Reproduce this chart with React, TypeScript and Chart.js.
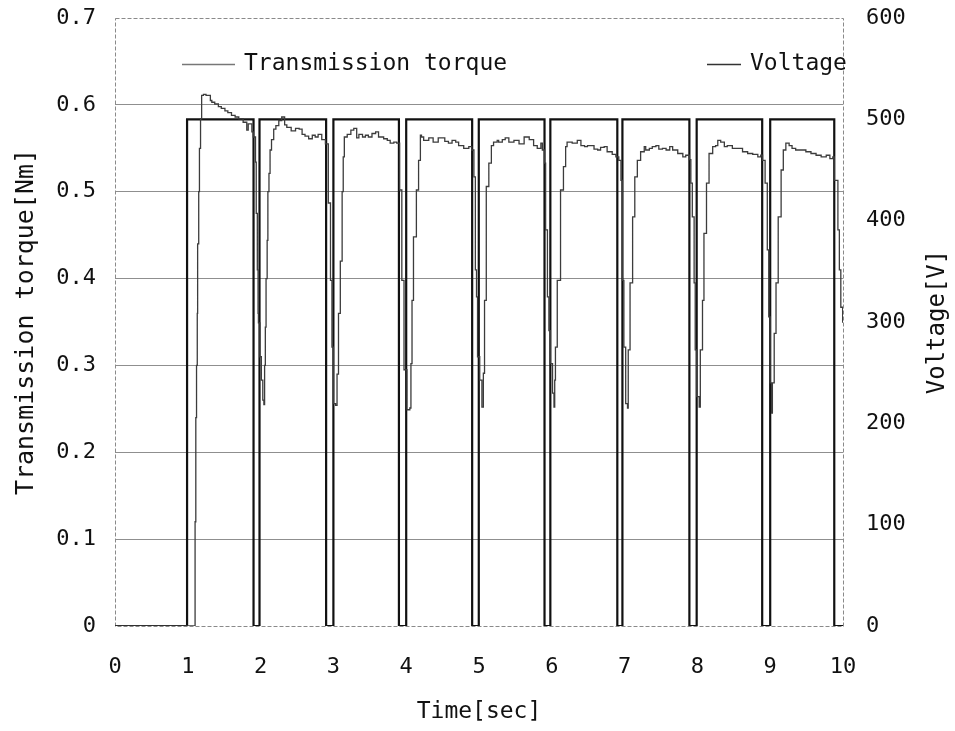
import { useEffect, useRef } from "react";
import { Chart, registerables } from "chart.js";

Chart.register(...registerables);

// Applied voltage pulses: switch-on / switch-off instants [sec] and level [V]
const pulseOn = [0.99, 1.985, 3.0, 4.0, 4.997, 5.98, 6.97, 7.99, 9.0];
const pulseOff = [1.903, 2.9, 3.9, 4.906, 5.9, 6.9, 7.89, 8.89, 9.88];
const pulseVoltage = 500;
const timeEnd = 10;

// Transmission torque readings, [time sec, torque Nm]
const torqueIdle: [number, number][] = [[0, 0], [1.1, 0]];
const torqueCycle1: [number, number][] = [
  [1.11, 0.12], [1.12, 0.24], [1.13, 0.3], [1.135, 0.36], [1.15, 0.44], [1.16, 0.5],
  [1.175, 0.55], [1.19, 0.584], [1.215, 0.611], [1.25, 0.612], [1.31, 0.611], [1.33, 0.605],
  [1.37, 0.603], [1.42, 0.601], [1.46, 0.598], [1.51, 0.596], [1.55, 0.593], [1.6, 0.591],
  [1.65, 0.588], [1.7, 0.586], [1.76, 0.584], [1.81, 0.58], [1.83, 0.571], [1.86, 0.578],
  [1.88, 0.578], [1.9, 0.569], [1.93, 0.563],
];
const torqueCycle2: [number, number][] = [
  [1.94, 0.534], [1.955, 0.475], [1.965, 0.41], [1.97, 0.36], [1.99, 0.349], [2.01, 0.31],
  [2.03, 0.283], [2.045, 0.26], [2.055, 0.255], [2.065, 0.3], [2.075, 0.344], [2.09, 0.4],
  [2.1, 0.444], [2.115, 0.5], [2.13, 0.521], [2.15, 0.548], [2.18, 0.56], [2.21, 0.572],
  [2.25, 0.576], [2.29, 0.582], [2.33, 0.586], [2.36, 0.577], [2.42, 0.574], [2.48, 0.57],
  [2.53, 0.573], [2.57, 0.572], [2.61, 0.566], [2.66, 0.564], [2.71, 0.561], [2.75, 0.565],
  [2.79, 0.563], [2.84, 0.566], [2.89, 0.56], [2.93, 0.555],
];
const torqueCycle3: [number, number][] = [
  [2.96, 0.487], [2.98, 0.398], [3.0, 0.321], [3.03, 0.256], [3.05, 0.254], [3.07, 0.29],
  [3.095, 0.36], [3.12, 0.42], [3.135, 0.5], [3.15, 0.54], [3.19, 0.563], [3.24, 0.566],
  [3.28, 0.571], [3.32, 0.573], [3.35, 0.562], [3.4, 0.566], [3.44, 0.563], [3.48, 0.565],
  [3.53, 0.563], [3.58, 0.567], [3.62, 0.569], [3.66, 0.563], [3.69, 0.563], [3.74, 0.561],
  [3.78, 0.559], [3.83, 0.556], [3.87, 0.557], [3.91, 0.556],
];
const torqueCycle4: [number, number][] = [
  [3.94, 0.502], [3.97, 0.398], [4.01, 0.295], [4.05, 0.249], [4.065, 0.251], [4.08, 0.302],
  [4.1, 0.375], [4.14, 0.448], [4.17, 0.502], [4.195, 0.536], [4.21, 0.565], [4.24, 0.563],
  [4.31, 0.559], [4.37, 0.562], [4.44, 0.557], [4.53, 0.562], [4.58, 0.558], [4.63, 0.556],
  [4.68, 0.559], [4.72, 0.557], [4.79, 0.553], [4.86, 0.55], [4.9, 0.552], [4.93, 0.548],
];
const torqueCycle5: [number, number][] = [
  [4.95, 0.517], [4.966, 0.41], [4.98, 0.379], [5.01, 0.31], [5.04, 0.283], [5.06, 0.252],
  [5.076, 0.291], [5.1, 0.375], [5.135, 0.506], [5.17, 0.533], [5.2, 0.553], [5.25, 0.557],
  [5.27, 0.559], [5.32, 0.557], [5.36, 0.56], [5.41, 0.562], [5.48, 0.557], [5.55, 0.559],
  [5.62, 0.555], [5.69, 0.563], [5.75, 0.56], [5.8, 0.553], [5.85, 0.55], [5.87, 0.556],
  [5.9, 0.548],
];
const torqueCycle6: [number, number][] = [
  [5.915, 0.533], [5.94, 0.456], [5.96, 0.379], [5.98, 0.34], [6.01, 0.302], [6.03, 0.268],
  [6.04, 0.252], [6.05, 0.283], [6.075, 0.321], [6.12, 0.398], [6.16, 0.502], [6.19, 0.529],
  [6.21, 0.552], [6.28, 0.557], [6.35, 0.556], [6.4, 0.559], [6.45, 0.553], [6.49, 0.552],
  [6.58, 0.553], [6.63, 0.549], [6.67, 0.548], [6.72, 0.551], [6.76, 0.552], [6.83, 0.546],
  [6.88, 0.543], [6.92, 0.54], [6.95, 0.536],
];
const torqueCycle7: [number, number][] = [
  [6.97, 0.513], [6.99, 0.398], [7.015, 0.321], [7.04, 0.256], [7.05, 0.251], [7.075, 0.318],
  [7.11, 0.395], [7.14, 0.471], [7.175, 0.517], [7.22, 0.536], [7.27, 0.546], [7.29, 0.552],
  [7.34, 0.548], [7.38, 0.55], [7.43, 0.552], [7.47, 0.553], [7.52, 0.549], [7.57, 0.55],
  [7.62, 0.548], [7.66, 0.552], [7.73, 0.548], [7.8, 0.544], [7.84, 0.54], [7.89, 0.542],
  [7.91, 0.537],
];
const torqueCycle8: [number, number][] = [
  [7.93, 0.51], [7.955, 0.471], [7.97, 0.395], [7.99, 0.318], [8.025, 0.264], [8.04, 0.252],
  [8.07, 0.318], [8.09, 0.375], [8.125, 0.452], [8.16, 0.51], [8.21, 0.544], [8.25, 0.552],
  [8.28, 0.553], [8.32, 0.559], [8.37, 0.557], [8.41, 0.552], [8.48, 0.553], [8.55, 0.55],
  [8.62, 0.55], [8.69, 0.546], [8.76, 0.544], [8.83, 0.543], [8.87, 0.54], [8.895, 0.542],
  [8.93, 0.536],
];
const torqueCycle9: [number, number][] = [
  [8.96, 0.51], [8.98, 0.433], [9.0, 0.356], [9.02, 0.28], [9.03, 0.245], [9.055, 0.28],
  [9.08, 0.337], [9.11, 0.395], [9.15, 0.471], [9.18, 0.525], [9.215, 0.548], [9.26, 0.556],
  [9.3, 0.553], [9.35, 0.55], [9.42, 0.548], [9.49, 0.548], [9.56, 0.546], [9.63, 0.544],
  [9.7, 0.542], [9.77, 0.54], [9.82, 0.542], [9.86, 0.538], [9.88, 0.54],
];
const torqueTail: [number, number][] = [
  [9.93, 0.513], [9.95, 0.456], [9.97, 0.41], [9.995, 0.367], [10.0, 0.35],
];

// Axis ranges and labels
const torqueMax = 0.7;
const torqueStep = 0.1;
const voltageMax = 600;
const voltageStep = 100;
const timeStep = 1;
const seriesLabels = ["Transmission torque", "Voltage"];
const xTitle = "Time[sec]";
const yTitle = "Transmission torque[Nm]";
const y1Title = "Voltage[V]";

const FONT = "'DejaVu Sans Mono', 'Liberation Mono', monospace";
const TEXT = "#111111";

function buildVoltage() {
  const pts: { x: number; y: number }[] = [{ x: 0, y: 0 }];
  pulseOn.forEach((on, i) => {
    const off = pulseOff[i];
    pts.push({ x: on, y: 0 }, { x: on, y: pulseVoltage }, { x: off, y: pulseVoltage }, { x: off, y: 0 });
  });
  pts.push({ x: timeEnd, y: 0 });
  return pts;
}

function buildTorque() {
  return [
    ...torqueIdle, ...torqueCycle1, ...torqueCycle2, ...torqueCycle3, ...torqueCycle4,
    ...torqueCycle5, ...torqueCycle6, ...torqueCycle7, ...torqueCycle8, ...torqueCycle9,
    ...torqueTail,
  ].map(([x, y]) => ({ x, y }));
}

// Dashed plot frame drawn beneath the traces
const framePlugin = {
  id: "plotFrame",
  beforeDatasetsDraw(chart: any) {
    const { ctx, chartArea: a } = chart;
    ctx.save();
    ctx.strokeStyle = "#8a8a8a";
    ctx.lineWidth = 1;
    ctx.setLineDash([4, 2]);
    ctx.strokeRect(a.left + 0.5, a.top + 0.5, a.right - a.left, a.bottom - a.top);
    ctx.restore();
  },
};

// Legend inside the plot plus axis titles (right title reads bottom-to-top)
const annotatePlugin = {
  id: "annotate",
  afterDraw(chart: any) {
    const { ctx, chartArea: a } = chart;
    ctx.save();
    ctx.fillStyle = TEXT;
    ctx.textBaseline = "middle";

    ctx.font = `23px ${FONT}`;
    const ly = a.top + 46;
    const items = [
      { x0: a.left + 67, x1: a.left + 120, color: "#777777", w: 1.5 },
      { x0: a.left + 592, x1: a.left + 626, color: "#333333", w: 1.5 },
    ];
    items.forEach((it, i) => {
      ctx.strokeStyle = it.color;
      ctx.lineWidth = it.w;
      ctx.beginPath();
      ctx.moveTo(it.x0, ly + 0.5);
      ctx.lineTo(it.x1, ly + 0.5);
      ctx.stroke();
      ctx.textAlign = "left";
      ctx.fillText(chart.data.datasets[i].label, it.x1 + 9, ly);
    });

    const cy = (a.top + a.bottom) / 2;
    ctx.textAlign = "center";
    ctx.font = `23px ${FONT}`;
    ctx.fillText(xTitle, (a.left + a.right) / 2, 712);

    ctx.save();
    ctx.font = `25px ${FONT}`;
    ctx.translate(26, cy);
    ctx.rotate(-Math.PI / 2);
    ctx.fillText(yTitle, 0, 0);
    ctx.restore();

    ctx.save();
    ctx.font = `24px ${FONT}`;
    ctx.translate(938, cy);
    ctx.rotate(-Math.PI / 2);
    ctx.fillText(y1Title, 0, 0);
    ctx.restore();
    ctx.restore();
  },
};

export default function App() {
  const canvasRef = useRef<HTMLCanvasElement | null>(null);

  useEffect(() => {
    if (!canvasRef.current) return;
    const tickFont = { family: FONT, size: 22 };
    const chart = new Chart(canvasRef.current, {
      type: "line",
      data: {
        datasets: [
          {
            label: seriesLabels[0],
            data: buildTorque(),
            yAxisID: "y",
            borderColor: "#3c3c3c",
            borderWidth: 1.3,
            stepped: "after",
            pointRadius: 0,
            fill: false,
          },
          {
            label: seriesLabels[1],
            data: buildVoltage(),
            yAxisID: "y1",
            borderColor: "#111111",
            borderWidth: 2.2,
            pointRadius: 0,
            tension: 0,
            fill: false,
          },
        ],
      },
      options: {
        animation: false,
        responsive: false,
        layout: { padding: { top: 18, left: 0, right: 0, bottom: 0 } },
        plugins: { legend: { display: false }, tooltip: { enabled: false } },
        scales: {
          x: {
            type: "linear",
            min: 0,
            max: timeEnd,
            grid: { display: false, drawTicks: false },
            border: { display: false },
            ticks: { stepSize: timeStep, font: tickFont, color: TEXT, padding: 28, maxRotation: 0 },
            afterFit: (s: any) => { s.height = 105; },
          },
          y: {
            type: "linear",
            position: "left",
            min: 0,
            max: torqueMax,
            grid: {
              drawTicks: false,
              color: (c: any) =>
                c.tick && (Math.abs(c.tick.value) < 1e-9 || c.tick.value > torqueMax - 1e-6)
                  ? "rgba(0,0,0,0)"
                  : "#8f8f8f",
              lineWidth: 1,
            },
            border: { display: false },
            ticks: {
              stepSize: torqueStep,
              font: tickFont,
              color: TEXT,
              padding: 19,
              callback: (v: any) => (Math.abs(Number(v)) < 1e-9 ? "0" : Number(v).toFixed(1)),
            },
            afterFit: (s: any) => {
              s.width = 115;
              s.paddingTop = 0;
              s.paddingBottom = 0;
            },
          },
          y1: {
            type: "linear",
            position: "right",
            min: 0,
            max: voltageMax,
            grid: { display: false, drawTicks: false },
            border: { display: false },
            ticks: { stepSize: voltageStep, font: tickFont, color: TEXT, padding: 23 },
            afterFit: (s: any) => {
              s.width = 112;
              s.paddingTop = 0;
              s.paddingBottom = 0;
            },
          },
        },
      },
      plugins: [framePlugin, annotatePlugin],
    });
    return () => chart.destroy();
  }, []);

  return (
    <div style={{ position: "absolute", left: 0, top: 0, width: 955, height: 731, background: "#fff" }}>
      <canvas ref={canvasRef} width={955} height={731} />
    </div>
  );
}
